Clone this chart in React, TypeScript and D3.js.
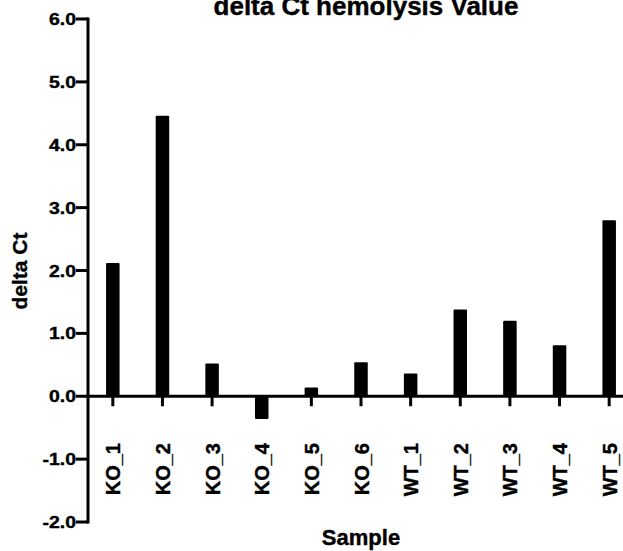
import React from "react";
import * as d3 from "d3";

const categories = ["KO_1", "KO_2", "KO_3", "KO_4", "KO_5", "KO_6", "WT_1", "WT_2", "WT_3", "WT_4", "WT_5"];
const values = [2.12, 4.46, 0.52, -0.36, 0.14, 0.54, 0.36, 1.38, 1.2, 0.81, 2.8];
const yTicks = [-2, -1, 0, 1, 2, 3, 4, 5, 6];
const title = "delta Ct hemolysis Value";
const xTitle = "Sample";
const yTitle = "delta Ct";

const W = 623;
const H = 551;
const axisX = 88;

export default function App() {
  const y = d3.scaleLinear().domain([-2, 6]).range([522, 19]);
  const x = d3.scalePoint<string>().domain(categories).range([axisX, 634]).padding(0.5);
  const bw = 13.5;
  const y0 = y(0);
  const f = d3.format(".1f");
  const fmt = (t: number) => f(t).replace("\u2212", "-");
  const font = "'Liberation Sans', Arial, sans-serif";

  return (
    <svg width={W} height={H} style={{ position: "absolute", left: 0, top: 0 }} fontFamily={font} fontWeight="bold">
      <rect width={W} height={H} fill="#fff" />
      <g stroke="#000" strokeWidth={0.4}>
        <text x={366} y={15} textAnchor="middle" fontSize={26}>{title}</text>
      </g>
      {categories.map((c, i) => {
        const v = values[i];
        const top = Math.min(y(v), y0);
        const h = Math.abs(y(v) - y0);
        return <rect key={c} x={x(c)! - bw / 2} y={top} width={bw} height={h} fill="#000" rx={1} />;
      })}
      <line x1={axisX} x2={W} y1={y0} y2={y0} stroke="#000" strokeWidth={3} />
      {categories.map((c) => (
        <line key={"t" + c} x1={x(c)} x2={x(c)} y1={y0} y2={y0 + 10} stroke="#000" strokeWidth={3} />
      ))}
      <line x1={axisX} x2={axisX} y1={y(6) - 1.5} y2={y(-2) + 1.5} stroke="#000" strokeWidth={3} />
      {yTicks.map((t) => (
        <g key={"y" + t}>
          <line x1={axisX - 12} x2={axisX} y1={y(t)} y2={y(t)} stroke="#000" strokeWidth={3} />
          <text
            transform={`translate(${axisX - 12},${y(t) + 6}) scale(1.18,1)`}
            textAnchor="end"
            fontSize={16.5}
            stroke="#000"
            strokeWidth={0.4}
          >
            {fmt(t)}
          </text>
        </g>
      ))}
      {categories.map((c) => (
        <text
          key={"l" + c}
          transform={`translate(${x(c)! + 7.5},443) rotate(-90)`}
          textAnchor="end"
          fontSize={20}
          stroke="#000"
          strokeWidth={0.4}
        >
          {c}
        </text>
      ))}
      <text x={361} y={545} textAnchor="middle" fontSize={22} stroke="#000" strokeWidth={0.4}>{xTitle}</text>
      <text transform={`translate(27,271) rotate(-90)`} textAnchor="middle" fontSize={21} stroke="#000" strokeWidth={0.4}>
        {yTitle}
      </text>
    </svg>
  );
}
